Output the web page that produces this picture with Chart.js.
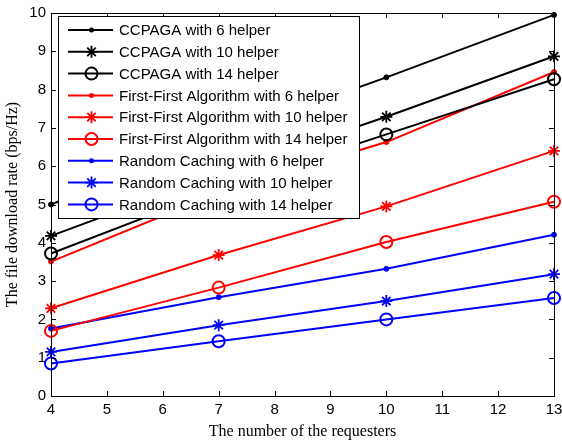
<!DOCTYPE html>
<html>
<head>
<meta charset="utf-8">
<script src="https://cdn.jsdelivr.net/npm/chart.js@4.4.1/dist/chart.umd.min.js"></script>
<style>
  html, body { margin: 0; padding: 0; background: #fff; }
</style>
</head>
<body>
<canvas id="chart" width="562" height="443"></canvas>
<script>
// x values (number of requesters)
const requesters = [4, 7, 10, 13];

// download rate (bps/Hz)
const ccpaga6 = [5.0, 6.75, 8.32, 9.95];
const ccpaga10 = [4.18, 5.8, 7.29, 8.87];
const ccpaga14 = [3.72, 5.4, 6.83, 8.27];
const firstFirst6 = [3.51, 5.3, 6.63, 8.46];
const firstFirst10 = [2.29, 3.68, 4.95, 6.4];
const firstFirst14 = [1.7, 2.83, 4.02, 5.07];
const random6 = [1.76, 2.58, 3.32, 4.21];
const random10 = [1.15, 1.85, 2.48, 3.18];
const random14 = [0.85, 1.43, 2.0, 2.56];

const seriesLabels = [
  "CCPAGA with 6 helper",
  "CCPAGA with 10 helper",
  "CCPAGA with 14 helper",
  "First-First Algorithm with 6 helper",
  "First-First Algorithm with 10 helper",
  "First-First Algorithm with 14 helper",
  "Random Caching with 6 helper",
  "Random Caching with 10 helper",
  "Random Caching with 14 helper",
];
const seriesValues = [ccpaga6, ccpaga10, ccpaga14, firstFirst6, firstFirst10, firstFirst14, random6, random10, random14];

const xTicks = [4, 5, 6, 7, 8, 9, 10, 11, 12, 13];
const yTicks = [0, 1, 2, 3, 4, 5, 6, 7, 8, 9, 10];

const colors = ["#000000", "#ff0000", "#0000ff"];
const markers = ["dot", "star", "ring"];

const sansFont = "'Liberation Sans', Arial, sans-serif";
const serifFont = "'Liberation Serif', 'Times New Roman', serif";

function markerOptions(kind, color) {
  if (kind === "dot") {
    return { pointStyle: "circle", pointRadius: 2.5, pointBorderWidth: 1, pointBackgroundColor: color, pointBorderColor: color };
  }
  if (kind === "star") {
    return { pointStyle: "star", pointRadius: 6, pointBorderWidth: 1.8, pointBackgroundColor: color, pointBorderColor: color };
  }
  return { pointStyle: "circle", pointRadius: 6, pointBorderWidth: 2, pointBackgroundColor: "rgba(0,0,0,0)", pointBorderColor: color };
}

const datasets = seriesValues.map((vals, i) => {
  const color = colors[Math.floor(i / 3)];
  return Object.assign({
    label: seriesLabels[i],
    data: vals.map((v, j) => ({ x: requesters[j], y: v })),
    borderColor: color,
    borderWidth: 2,
    clip: false,
    tension: 0,
    pointHoverRadius: 6,
  }, markerOptions(markers[i % 3], color));
});

// draw a legend marker by hand
function drawMarker(ctx, kind, color, x, y) {
  ctx.save();
  ctx.strokeStyle = color;
  ctx.fillStyle = color;
  if (kind === "dot") {
    ctx.beginPath();
    ctx.arc(x, y, 2.5, 0, Math.PI * 2);
    ctx.fill();
  } else if (kind === "star") {
    ctx.lineWidth = 1.8;
    ctx.beginPath();
    for (let k = 0; k < 4; k++) {
      const a = k * Math.PI / 4;
      ctx.moveTo(x - 6 * Math.cos(a), y - 6 * Math.sin(a));
      ctx.lineTo(x + 6 * Math.cos(a), y + 6 * Math.sin(a));
    }
    ctx.stroke();
  } else {
    ctx.lineWidth = 2;
    ctx.beginPath();
    ctx.arc(x, y, 6, 0, Math.PI * 2);
    ctx.stroke();
  }
  ctx.restore();
}

// matlab style box with inward ticks
const framePlugin = {
  id: "frame",
  afterDatasetsDraw(chart) {
    const { ctx, chartArea: a, scales } = chart;
    ctx.save();
    ctx.strokeStyle = "#000";
    ctx.lineWidth = 1;
    ctx.beginPath();
    xTicks.forEach(t => {
      const px = Math.round(scales.x.getPixelForValue(t)) + 0.5;
      ctx.moveTo(px, a.bottom); ctx.lineTo(px, a.bottom - 5);
      ctx.moveTo(px, a.top); ctx.lineTo(px, a.top + 5);
    });
    yTicks.forEach(t => {
      const py = Math.round(scales.y.getPixelForValue(t)) + 0.5;
      ctx.moveTo(a.left, py); ctx.lineTo(a.left + 5, py);
      ctx.moveTo(a.right, py); ctx.lineTo(a.right - 5, py);
    });
    ctx.stroke();
    ctx.strokeRect(Math.round(a.left) + 0.5, Math.round(a.top) + 0.5, Math.round(a.right - a.left), Math.round(a.bottom - a.top));
    ctx.restore();
  }
};

const legendPlugin = {
  id: "boxLegend",
  afterDraw(chart) {
    const { ctx, chartArea: a } = chart;
    const left = Math.round(a.left) + 7, top = Math.round(a.top) + 3;
    const w = 301, h = 202;
    ctx.save();
    ctx.fillStyle = "#fff";
    ctx.fillRect(left, top, w, h);
    ctx.strokeStyle = "#000";
    ctx.lineWidth = 1;
    ctx.strokeRect(left + 0.5, top + 0.5, w, h);
    ctx.font = "15px " + sansFont;
    ctx.textBaseline = "middle";
    chart.data.datasets.forEach((ds, i) => {
      const y = top + 14 + i * 21.8;
      const color = colors[Math.floor(i / 3)];
      ctx.strokeStyle = color;
      ctx.lineWidth = 2;
      ctx.beginPath();
      ctx.moveTo(left + 10, y);
      ctx.lineTo(left + 55, y);
      ctx.stroke();
      drawMarker(ctx, markers[i % 3], color, left + 33.5, y);
      ctx.fillStyle = "#000";
      ctx.fillText(ds.label, left + 61, y + 1);
    });
    ctx.restore();
  }
};

new Chart(document.getElementById("chart"), {
  type: "line",
  data: { datasets },
  options: {
    responsive: false,
    animation: false,
    layout: { padding: { left: 0, top: 13, right: 6, bottom: 0 } },
    plugins: {
      legend: { display: false },
      tooltip: { enabled: true },
    },
    scales: {
      x: {
        type: "linear",
        min: 4,
        max: 13,
        afterFit: s => { s.height = 47; s.paddingLeft = 0; s.paddingRight = 0; },
        afterBuildTicks: s => { s.ticks = xTicks.map(v => ({ value: v })); },
        grid: { display: false, drawTicks: false },
        border: { display: false },
        ticks: { color: "#000", font: { family: sansFont, size: 15 }, padding: 5, maxRotation: 0 },
        title: {
          display: true,
          text: "The number of the requesters",
          color: "#000",
          font: { family: serifFont, size: 16 },
          padding: { top: 0, bottom: 2 },
        },
      },
      y: {
        min: 0,
        max: 10,
        afterFit: s => { s.width = 51; s.paddingTop = 0; s.paddingBottom = 0; },
        afterBuildTicks: s => { s.ticks = yTicks.map(v => ({ value: v })); },
        grid: { display: false, drawTicks: false },
        border: { display: false },
        ticks: { color: "#000", font: { family: sansFont, size: 15 }, padding: 5 },
        title: {
          display: true,
          text: "The file download rate (bps/Hz)",
          color: "#000",
          font: { family: serifFont, size: 16 },
          padding: { top: 3, bottom: 0 },
        },
      },
    },
  },
  plugins: [framePlugin, legendPlugin],
});
</script>
</body>
</html>
